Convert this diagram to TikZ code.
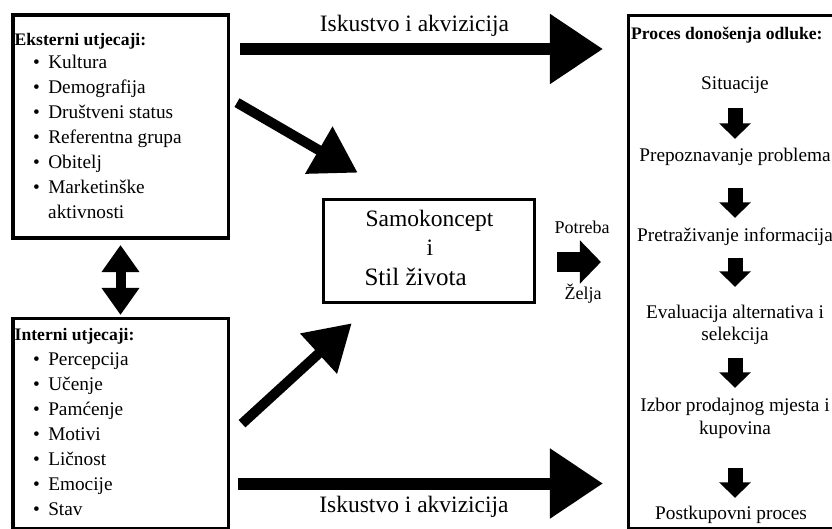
\documentclass[tikz,border=0pt]{standalone}
\usepackage{fontspec}
\setmainfont{Liberation Serif}
\usetikzlibrary{arrows.meta}
\newcommand{\itm}{\textbullet\hspace{8.3pt}}

\begin{document}
\begin{tikzpicture}[x=1pt, y=-1pt,
  box/.style={draw, line width=3.5pt, inner sep=0},
  txt/.style={inner sep=0, anchor=base west, font=\fontsize{19.3}{23}\selectfont},
  ttl/.style={inner sep=0, anchor=base west, font=\fontsize{17.6}{21}\selectfont\bfseries},
  ptxt/.style={inner sep=0, anchor=base, text height=13pt, text depth=4pt, font=\fontsize{19.3}{23}\selectfont},
  big/.style={inner sep=0, anchor=base, font=\fontsize{23.5}{28}\selectfont},
  lbl/.style={inner sep=0, anchor=base, font=\fontsize{18}{21}\selectfont},
  bigarrow/.style={line width=12pt, -{Triangle[length=53pt, width=67pt]}},
  diagarrow/.style={line width=10pt, -{Triangle[length=45pt, width=52pt]}},
  needarrow/.style={line width=20pt, -{Triangle[length=21pt, width=42pt]}},
  steparrow/.style={line width=15pt, -{Triangle[length=15.5pt, width=31pt]}},
  dblarrow/.style={line width=10pt, {Triangle[length=27pt, width=36pt]}-{Triangle[length=27pt, width=36pt]}}]

\useasboundingbox (0,0) rectangle (832,529);

% boxes
\node[box, minimum width=215.5, minimum height=223.2] (ext) at (120.5,126.65) {};
\node[box, minimum width=215.5, minimum height=210.55] (int) at (120.5,423.7) {};
\node[box, minimum width=210.8, minimum height=103.1] (self) at (428.85,251) {};
\node[box, minimum width=230, minimum height=513.3] (proc) at (743.7,272.35) {};

% external influences
\node[ttl] (e0) at (14.5,46) {Eksterni utjecaji:};
\node[txt] (e1) at (33,69) {\itm Kultura};
\node[txt] (e2) at (33,94) {\itm Demografija};
\node[txt] (e3) at (33,119) {\itm Društveni status};
\node[txt] (e4) at (33,144) {\itm Referentna grupa};
\node[txt] (e5) at (33,169) {\itm Obitelj};
\node[txt] (e6) at (33,194) {\itm Marketinške};
\node[txt] (e7) at (48,219) {aktivnosti};

% internal influences
\node[ttl] (i0) at (14.5,340) {Interni utjecaji:};
\node[txt] (i1) at (33,365) {\itm Percepcija};
\node[txt] (i2) at (33,390) {\itm Učenje};
\node[txt] (i3) at (33,415) {\itm Pamćenje};
\node[txt] (i4) at (33,440) {\itm Motivi};
\node[txt] (i5) at (33,465) {\itm Ličnost};
\node[txt] (i6) at (33,490) {\itm Emocije};
\node[txt] (i7) at (33,515) {\itm Stav};

% self concept
\node[big] (s1) at (429.5,227) {Samokoncept};
\node[big] (s2) at (430,256) {i};
\node[big, anchor=base west, font=\fontsize{25}{28}\selectfont] (s3) at (364.3,285) {Stil života};

% decision process
\node[ttl] (p0) at (631,40) {Proces donošenja odluke:};
\node[ptxt] (p1) at (735,89.5) {Situacije};
\node[ptxt] (p2) at (735,162) {Prepoznavanje problema};
\node[ptxt] (p3) at (735,242) {Pretraživanje informacija};
\node[ptxt] (p4) at (735,318) {Evaluacija alternativa i};
\node[ptxt] (p4b) at (735,340) {selekcija};
\node[ptxt] (p5) at (735,411) {Izbor prodajnog mjesta i};
\node[ptxt] (p5b) at (735,434) {kupovina};
\node[ptxt] (p6) at (731,519.5) {Postkupovni proces};

\draw[steparrow, shorten <=14.5pt, shorten >=10pt] (p1.south) -- (p2.north);
\draw[steparrow, shorten <=22pt, shorten >=11pt] (p2.south) -- (p3.north);
\draw[steparrow, shorten <=12pt, shorten >=18pt] (p3.south) -- (p4.north);
\draw[steparrow, shorten <=14pt, shorten >=10pt] (p4b.south) -- (p5.north);
\draw[steparrow, shorten <=30pt, shorten >=8.5pt] (p5b.south) -- (p5b.south |- p6.north);

% labels
\node[big] (acq1) at (414.5,32) {Iskustvo i akvizicija};
\node[big] (acq2) at (414,512) {Iskustvo i akvizicija};
\node[lbl] (need) at (582,233.3) {Potreba};
\node[lbl] (want) at (583,299) {Želja};

% arrows
\draw[bigarrow, shorten <=10pt, shorten >=24pt] (ext.east |- 0,49) -- (proc.west |- 0,49);
\draw[bigarrow, shorten <=8pt, shorten >=24pt] (int.east |- 0,483.5) -- (proc.west |- 0,483.5);
\draw[diagarrow] ([shift={(7,-24)}]ext.east) -- ([shift={(36,-25)}]self.north west);
\draw[diagarrow] ([xshift=12pt]int.east) -- ([shift={(30,19)}]self.south west);
\draw[needarrow, shorten <=21pt, shorten >=26pt] (self.east |- 0,262) -- (proc.west |- 0,262);
\draw[dblarrow, shorten <=5pt, shorten >=1.7pt] (ext.south) -- (int.north);

\end{tikzpicture}
\end{document}
